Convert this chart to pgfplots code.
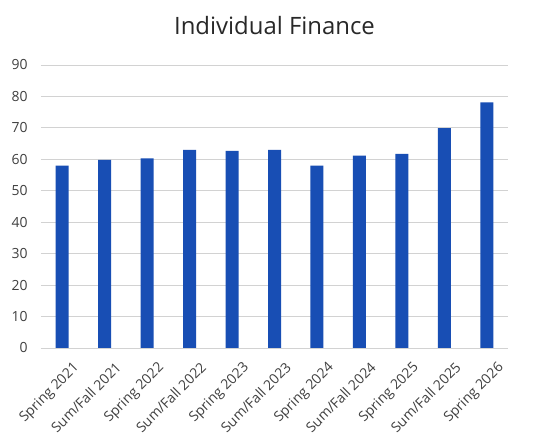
\documentclass[border=0pt]{standalone}
\usepackage{pgfplots}
\pgfplotsset{compat=1.18}
\usepackage{fontspec}
\setmainfont{Open Sans}
\definecolor{barblue}{RGB}{24,78,180}
\definecolor{gridgray}{RGB}{210,210,210}
\definecolor{labgray}{RGB}{64,64,64}
\definecolor{titlegray}{RGB}{40,40,40}
\begin{document}
\begin{tikzpicture}
\path[use as bounding box, fill=white] (0,0) rectangle (555bp,444bp);
\begin{axis}[
    at={(41bp,96bp)}, anchor=south west,
    scale only axis,
    width=467bp, height=283bp,
    ybar, bar width=13bp,
    xmin=-0.5, xmax=10.5,
    ymin=0, ymax=90,
    ytick={0,10,...,90},
    xtick=data,
    xticklabels={Spring 2021, Sum/Fall 2021, Spring 2022, Sum/Fall 2022, Spring 2023, Sum/Fall 2023, Spring 2024, Sum/Fall 2024, Spring 2025, Sum/Fall 2025, Spring 2026},
    xticklabel style={rotate=45, anchor=north east, font=\fontsize{14}{16}\selectfont, text=labgray, inner sep=1bp, xshift=-1bp, yshift=-15bp},
    yticklabel style={font=\fontsize{14}{16}\selectfont, text=labgray, xshift=-10bp},
    /pgf/number format/assume math mode=true,
    major tick length=0pt,
    ymajorgrids, grid style={gridgray, line width=1pt},
    axis x line*=bottom,
    axis y line*=left,
    x axis line style={draw=gridgray, line width=1pt, -},
    y axis line style={draw=none},
    ytick style={draw=none}, xtick style={draw=none},
    title={Individual Finance},
    title style={font=\fontsize{24}{28}\selectfont, text=titlegray, at={(0.5,1)}, anchor=base, yshift=25bp},
]
\addplot[fill=barblue, draw=none, bar shift=0pt] coordinates {
(0,58) (1,59.8) (2,60.3) (3,63.0) (4,62.7) (5,63.0) (6,58.0) (7,61.2) (8,61.7) (9,69.9) (10,78.1)};
\end{axis}
\end{tikzpicture}
\end{document}
